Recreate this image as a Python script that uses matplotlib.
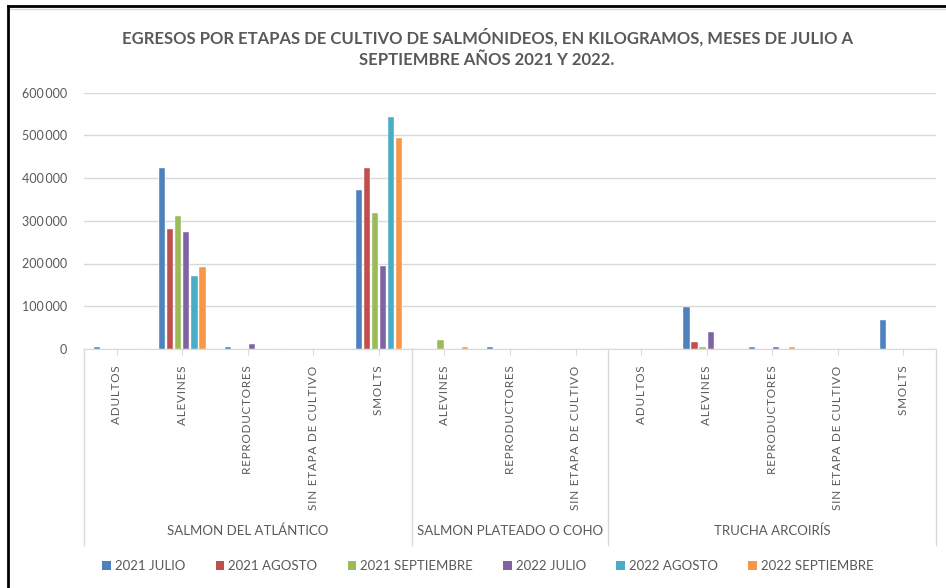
import matplotlib
matplotlib.use("Agg")
import matplotlib.pyplot as plt
import numpy as np
from matplotlib.lines import Line2D
from matplotlib.patches import Patch
from matplotlib.ticker import FuncFormatter

plt.rcParams['font.family'] = ['Lato', 'DejaVu Sans']

title = "EGRESOS POR ETAPAS DE CULTIVO DE SALMÓNIDEOS, EN KILOGRAMOS, MESES DE JULIO A\nSEPTIEMBRE AÑOS 2021 Y 2022."

groups = ["SALMON DEL ATLÁNTICO", "SALMON PLATEADO O COHO", "TRUCHA ARCOIRÍS"]
group_cats = [
    ["ADULTOS", "ALEVINES", "REPRODUCTORES", "SIN ETAPA DE CULTIVO", "SMOLTS"],
    ["ALEVINES", "REPRODUCTORES", "SIN ETAPA DE CULTIVO"],
    ["ADULTOS", "ALEVINES", "REPRODUCTORES", "SIN ETAPA DE CULTIVO", "SMOLTS"],
]
series_names = ["2021 JULIO", "2021 AGOSTO", "2021 SEPTIEMBRE", "2022 JULIO", "2022 AGOSTO", "2022 SEPTIEMBRE"]
colors = ["#4F81BD", "#C0504D", "#9BBB59", "#8064A2", "#4BACC6", "#F79646"]

# values per category (13 categories) for each series
s2021_jul = [5000, 424000, 5000, 0, 373000, 0, 4000, 0, 0, 98000, 4000, 0, 68000]
s2021_ago = [0, 281000, 0, 0, 424000, 0, 0, 0, 0, 16000, 0, 0, 0]
s2021_sep = [0, 310000, 0, 0, 317000, 21000, 0, 0, 0, 5000, 0, 0, 0]
s2022_jul = [0, 274000, 12000, 0, 194000, 0, 0, 0, 0, 39000, 4000, 0, 0]
s2022_ago = [0, 171000, 0, 0, 542000, 0, 0, 0, 0, 0, 0, 0, 0]
s2022_sep = [0, 192000, 0, 0, 494000, 4000, 0, 0, 0, 0, 4000, 0, 0]
series = [s2021_jul, s2021_ago, s2021_sep, s2022_jul, s2022_ago, s2022_sep]

W, H = 946, 588
fig = plt.figure(figsize=(W / 100, H / 100), dpi=100)
ax = fig.add_axes([84 / W, 1 - 349 / H, 852 / W, 256.5 / H])

cats = [c for g in group_cats for c in g]
n = len(cats)
x = np.arange(n)
slot = 0.123
bw = 0.095
for i, (vals, col) in enumerate(zip(series, colors)):
    ax.bar(x + (i - 2.5) * slot, vals, width=bw, color=col, zorder=3,
           edgecolor='white', linewidth=0.3)

ax.set_xlim(-0.5, n - 0.5)
ax.set_ylim(0, 600000)
ax.set_yticks(np.arange(0, 600001, 100000))
ax.yaxis.set_major_formatter(FuncFormatter(lambda v, p: f"{int(v):,}".replace(",", "\u2009") if v else "0"))
ax.grid(axis='y', color='#D9D9D9', linewidth=1, zorder=0)
for s in ['top', 'right', 'left']:
    ax.spines[s].set_visible(False)
ax.spines['bottom'].set_color('#D9D9D9')
ax.tick_params(axis='y', length=0, labelsize=9, labelcolor='#595959', pad=12)
ax.set_xticks(x)
ax.set_xticklabels(["\u200a".join(c) for c in cats], rotation=90, va='top',
                   fontsize=8.5, color='#595959')
ax.tick_params(axis='x', length=4, color='#D9D9D9', pad=8)

# group separators and labels
trans = ax.get_xaxis_transform()
edges = [-0.5]
for g in group_cats:
    edges.append(edges[-1] + len(g))
bottom_frac = -(545 - 349) / 256.5
for e in edges:
    ax.add_line(Line2D([e, e], [0, bottom_frac], transform=trans, color='#D9D9D9',
                       linewidth=1, clip_on=False))
label_y = -(531 - 349) / 256.5
for gi, g in enumerate(groups):
    cx = (edges[gi] + edges[gi + 1]) / 2
    ax.text(cx, label_y, g, transform=trans, ha='center', va='center', fontsize=9.5,
            color='#595959')

fig.text(487 / W, 1 - 48 / H, title, ha='center', va='center', fontsize=12,
         fontweight='bold', color='#595959', linespacing=1.45)

handles = [Patch(facecolor=c, edgecolor='none') for c in colors]
fig.legend(handles, series_names, loc='center', bbox_to_anchor=(488 / W, 1 - 566 / H),
           ncol=6, frameon=False, fontsize=9.5, labelcolor='#595959',
           handlelength=0.65, handleheight=0.65, handletextpad=0.3, columnspacing=2.3)

# frame lines (top and left)
fig.add_artist(Line2D([8 / W, 1], [1 - 6 / H, 1 - 6 / H], transform=fig.transFigure, color='black', linewidth=2))
fig.add_artist(Line2D([8 / W, 1], [1 - 9 / H, 1 - 9 / H], transform=fig.transFigure, color='#D9D9D9', linewidth=1))
fig.add_artist(Line2D([8 / W, 8 / W], [0, 1 - 6 / H], transform=fig.transFigure, color='black', linewidth=2))

fig.savefig("out.png", dpi=100)
